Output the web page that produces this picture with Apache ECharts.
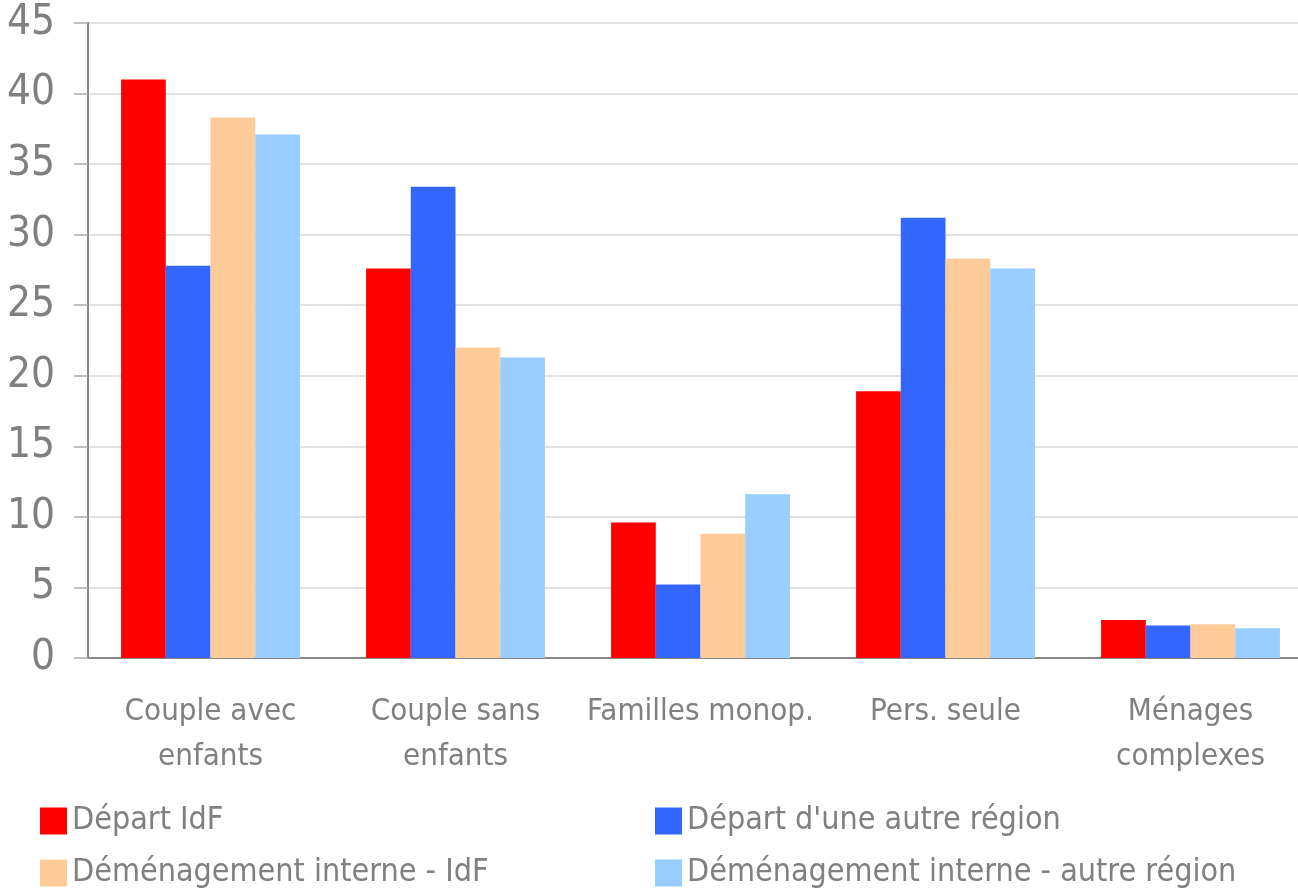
<!DOCTYPE html>
<html>
<head>
<meta charset="utf-8">
<script src="https://cdn.jsdelivr.net/npm/echarts@6/dist/echarts.min.js"></script>
<style>
  html, body { margin: 0; padding: 0; background: #fff; }
  #main { width: 1298px; height: 891px; }
</style>
</head>
<body>
<div id="main"></div>
<script>
// categories et valeurs (%)
var categories = ["Couple avec\nenfants", "Couple sans\nenfants", "Familles monop.", "Pers. seule", "Ménages\ncomplexes"];
var seriesNames = ["Départ IdF", "Départ d'une autre région", "Déménagement interne - IdF", "Déménagement interne - autre région"];
var departIdf = [41.0, 27.6, 9.6, 18.9, 2.7];
var departAutre = [27.8, 33.4, 5.2, 31.2, 2.3];
var demenagIdf = [38.3, 22.0, 8.8, 28.3, 2.4];
var demenagAutre = [37.1, 21.3, 11.6, 27.6, 2.1];
var colors = ["#ff0000", "#3366ff", "#ffcc99", "#99ccff"];

var font = "'Liberation Sans Narrow', 'Arial Narrow', 'DejaVu Sans Condensed', sans-serif";
var grey = "#808080";

var chart = echarts.init(document.getElementById("main"));

function bar(name, data, color) {
  return {
    name: name,
    type: "bar",
    data: data,
    barGap: "0%",
    barCategoryGap: "27%",
    itemStyle: { color: color },
  };
}

// une légende par entrée, placée en 2 colonnes
function legendItem(name, left, top) {
  return {
    data: [name],
    left: left,
    top: top,
    itemWidth: 27,
    itemHeight: 27,
    itemGap: 0,
    icon: "rect",
    textStyle: {
      color: grey,
      fontFamily: font,
      fontSize: 32,
    },
  };
}

var option = {
  animation: false,
  textStyle: { fontFamily: font },
  grid: {
    left: 88,
    right: -15,
    top: 23,
    bottom: 233,
    outerBoundsMode: "none",
    containLabel: false,
  },
  legend: [
    legendItem(seriesNames[0], 35, 800),
    legendItem(seriesNames[1], 650, 800),
    legendItem(seriesNames[2], 35, 852),
    legendItem(seriesNames[3], 650, 852),
  ],
  xAxis: {
    type: "category",
    data: categories,
    axisLine: { lineStyle: { color: "#888888", width: 2 } },
    axisTick: { length: 12, lineStyle: { color: "#888888", width: 1.5 } },
    axisLabel: {
      color: grey,
      fontFamily: font,
      fontSize: 31,
      lineHeight: 45,
      margin: 31,
      interval: 0,
    },
  },
  yAxis: {
    type: "value",
    min: 0,
    max: 45,
    interval: 5,
    axisLine: { show: true, lineStyle: { color: "#888888", width: 2 } },
    axisTick: { show: true, length: 14, lineStyle: { color: "#aaaaaa", width: 1.5 } },
    axisLabel: {
      color: grey,
      fontFamily: font,
      fontSize: 42,
      margin: 33,
    },
    splitLine: { lineStyle: { color: "#d9d9d9", width: 1.5 } },
  },
  series: [
    bar(seriesNames[0], departIdf, colors[0]),
    bar(seriesNames[1], departAutre, colors[1]),
    bar(seriesNames[2], demenagIdf, colors[2]),
    bar(seriesNames[3], demenagAutre, colors[3]),
  ],
};

chart.setOption(option);
</script>
</body>
</html>
